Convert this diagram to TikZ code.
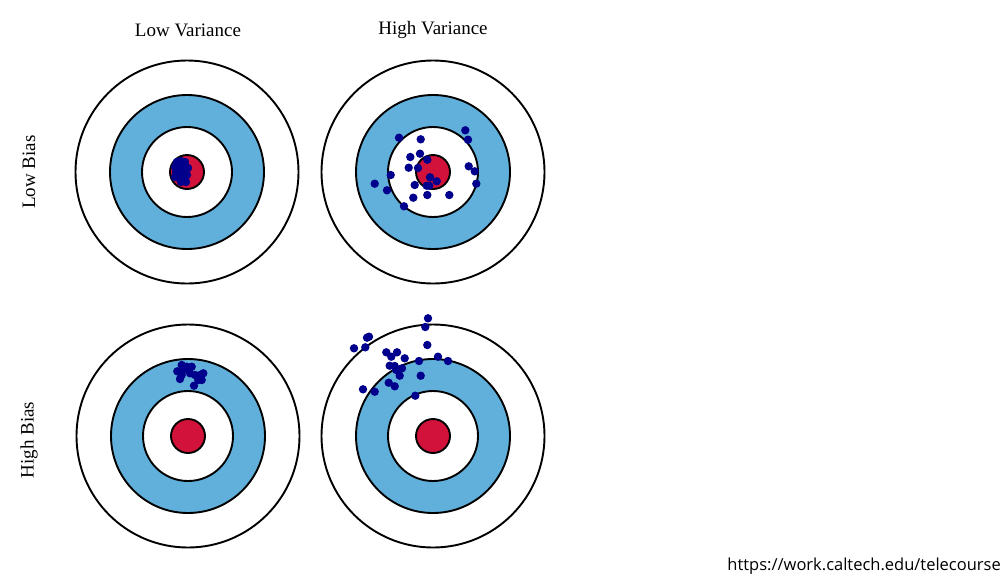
\documentclass[tikz,border=0pt]{standalone}
\usepackage{fontspec}
\setmainfont{Liberation Serif}
\newfontfamily\urlfont{Open Sans}
\definecolor{ringblue}{RGB}{97,176,220}
\definecolor{bullred}{RGB}{210,18,58}
\definecolor{dotblue}{RGB}{0,0,140}
\begin{document}
\begin{tikzpicture}[x=1pt,y=-1pt,
  ring/.style={draw=black, line width=1.9pt},
  shot/.style={fill=dotblue},
  lbl/.style={font=\fontsize{19}{21}\selectfont, inner sep=0pt},
  pics/target/.style={code={
    \draw[ring, fill=white] (0,0) circle[radius=111.5pt];
    \draw[ring, fill=ringblue] (0,0) circle[radius=77pt];
    \draw[ring, fill=white] (0,0) circle[radius=45pt];
    \draw[ring, fill=bullred] (0,0) circle[radius=17pt];
  }}]
\useasboundingbox (0,0) rectangle (1008,587);
\fill[white] (0,0) rectangle (1008,587);

% column and row labels
\node[lbl] (lowvar) at (188,30) {Low Variance};
\node[lbl] (highvar) at (433,30) {High Variance};
\node[lbl, rotate=90] (lowbias) at (29,172) {Low Bias};
\node[lbl, rotate=90] (highbias) at (29,440) {High Bias};

% target 1: low bias, low variance
\begin{scope}[shift={(187,172)}]
  \pic {target};
  \foreach \a/\b in {-10/-10,-6/-11,-2/-10,-12/-5,-8/-4,-4/-6,-11/0,-7/1,-3/-1,-12/5,-8/6,-4/8,0/3,-1/10,-6/10,1/-4,-9/-8,-5/4}
    \fill[shot] (\a,\b) circle[radius=4.2pt];
\end{scope}

% target 2: low bias, high variance
\begin{scope}[shift={(433,172)}]
  \pic {target};
  \foreach \a/\b in {32.3/-41.7,35/-32.3,-34/-34.3,-12.3/-32.7,-22.7/-15,-13/-18.3,-5.7/-12.3,-24.3/-4.3,-15/-4,35.7/-5.7,41.7/-0.7,-42.3/3,-58.3/11.7,-46/18.3,-18.3/13,-3/5.3,3.7/9.3,-6.3/13.7,-3.7/13.7,43.3/11.7,-19.7/25.7,-5.7/23,16.3/23,-29/34.3}
    \fill[shot] (\a,\b) circle[radius=4.2pt];
\end{scope}

% target 3: high bias, low variance
\begin{scope}[shift={(188,436)}]
  \pic {target};
  \foreach \a/\b in {-6.3/-71,-4.7/-66,-6.3/-61,-8/-57,-1.3/-69.3,3.7/-69.3,2/-62.7,7/-61,12/-61,15.3/-62.7,13.7/-56,10.3/-56,6/-50.3,-10.7/-64.7,0/-66}
    \fill[shot] (\a,\b) circle[radius=4.2pt];
\end{scope}

% target 4: high bias, high variance
\begin{scope}[shift={(433,436)}]
  \pic {target};
  \foreach \a/\b in {-5/-117.7,-7.7/-109,-64/-99.3,-66/-98.3,-79/-87.7,-67.7/-88.7,-5.7/-91,-46.7/-83.7,-36/-83.7,-41.7/-79.3,-28.3/-77.7,-14/-75,5/-79.3,15/-75,-43.3/-70.3,-38.3/-70,-31/-67.7,-36.7/-66,-33.3/-60.3,-12.3/-60.3,-44.3/-53.3,-38.3/-49.7,-70/-46.7,-58.3/-44.3,-17.7/-40.3}
    \fill[shot] (\a,\b) circle[radius=4.2pt];
\end{scope}

% source
\node[anchor=east, inner sep=0pt, font=\urlfont\fontsize{16.5}{18}\selectfont] (src) at (1001,566) {https://work.caltech.edu/telecourse};
\end{tikzpicture}
\end{document}
